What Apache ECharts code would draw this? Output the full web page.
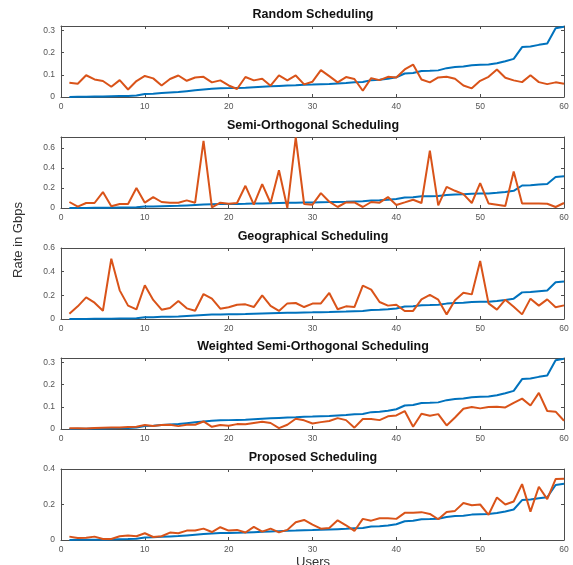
<!DOCTYPE html>
<html>
<head>
<meta charset="utf-8">
<script src="https://cdn.jsdelivr.net/npm/echarts@6/dist/echarts.min.js"></script>
<style>
  html, body { margin: 0; padding: 0; background: #fff; }
  #main { width: 573px; height: 565px; }
</style>
</head>
<body>
<div id="main"></div>
<script>
// users 1..60
const users = []
for (let i = 1; i <= 60; i++) users.push(i)

const titles = ['Random Scheduling', 'Semi-Orthogonal Scheduling', 'Geographical Scheduling',
  'Weighted Semi-Orthogonal Scheduling', 'Proposed Scheduling']

// blue reference curve (same in every panel)
const reference = [0.000,0.001,0.001,0.002,0.002,0.003,0.004,0.005,0.007,0.014,0.015,0.018,0.020,0.022,0.026,0.030,0.034,0.037,0.039,0.040,
  0.041,0.042,0.044,0.046,0.048,0.050,0.052,0.053,0.055,0.056,0.058,0.059,0.061,0.063,0.066,0.068,0.076,0.078,0.082,0.089,
  0.106,0.108,0.117,0.118,0.120,0.130,0.135,0.137,0.143,0.145,0.146,0.152,0.161,0.172,0.225,0.228,0.235,0.241,0.310,0.317]

const randomRate = [0.064,0.060,0.098,0.079,0.072,0.046,0.076,0.034,0.072,0.095,0.084,0.052,0.081,0.097,0.073,0.088,0.091,0.066,0.075,0.052,
  0.036,0.090,0.075,0.082,0.051,0.097,0.075,0.097,0.057,0.069,0.121,0.094,0.066,0.090,0.081,0.028,0.085,0.076,0.091,0.088,
  0.124,0.146,0.079,0.066,0.088,0.091,0.082,0.052,0.039,0.073,0.091,0.124,0.087,0.075,0.067,0.098,0.067,0.058,0.066,0.060]

const semiOrthRate = [0.060,0.013,0.050,0.050,0.159,0.017,0.040,0.040,0.200,0.053,0.109,0.060,0.053,0.053,0.076,0.053,0.672,0.007,0.053,0.043,
  0.050,0.222,0.033,0.238,0.050,0.377,0.000,0.705,0.040,0.033,0.149,0.063,0.010,0.056,0.056,0.010,0.060,0.053,0.109,0.030,
  0.056,0.083,0.050,0.573,0.026,0.212,0.172,0.139,0.050,0.248,0.046,0.033,0.020,0.364,0.046,0.046,0.046,0.043,0.010,0.050]

const geoRate = [0.045,0.107,0.183,0.138,0.070,0.510,0.242,0.113,0.082,0.285,0.161,0.079,0.093,0.152,0.090,0.070,0.211,0.172,0.087,0.099,
  0.121,0.124,0.101,0.200,0.110,0.068,0.132,0.135,0.101,0.130,0.132,0.220,0.082,0.107,0.101,0.282,0.248,0.144,0.113,0.121,
  0.068,0.068,0.166,0.203,0.163,0.039,0.158,0.222,0.208,0.490,0.132,0.079,0.163,0.104,0.039,0.172,0.113,0.166,0.099,0.115]

const weightedRate = [0.003,0.003,0.002,0.004,0.006,0.007,0.007,0.009,0.010,0.018,0.013,0.018,0.019,0.013,0.019,0.019,0.034,0.010,0.018,0.015,
  0.022,0.021,0.027,0.033,0.027,0.004,0.019,0.046,0.039,0.025,0.031,0.036,0.049,0.040,0.006,0.045,0.045,0.040,0.057,0.061,
  0.081,0.010,0.069,0.060,0.067,0.016,0.052,0.091,0.099,0.093,0.099,0.100,0.097,0.118,0.137,0.106,0.163,0.081,0.078,0.037]

const proposedRate = [0.019,0.011,0.013,0.019,0.006,0.006,0.021,0.025,0.021,0.038,0.017,0.021,0.042,0.038,0.053,0.053,0.064,0.045,0.072,0.053,
  0.057,0.042,0.074,0.047,0.064,0.043,0.057,0.100,0.113,0.087,0.064,0.068,0.111,0.083,0.051,0.119,0.109,0.123,0.123,0.119,
  0.153,0.153,0.157,0.147,0.117,0.158,0.164,0.208,0.196,0.200,0.142,0.240,0.200,0.217,0.315,0.160,0.300,0.230,0.343,0.345]

const panelRates = [randomRate, semiOrthRate, geoRate, weightedRate, proposedRate]
const yMax = [0.32, 0.71, 0.6, 0.32, 0.4]
const yStep = [0.1, 0.2, 0.2, 0.1, 0.2]

const tops = [26, 137, 248, 358, 469]
const plotH = 71
const axisColor = '#4d4d4d'
const labelColor = '#555'
const font = 'Liberation Sans, Arial, sans-serif'

var myChart = echarts.init(document.getElementById('main'), null, { renderer: 'canvas' })

const grid = [], xAxis = [], yAxis = [], series = [], graphic = []

tops.forEach((top, k) => {
  grid.push({ left: 61, right: 9, top: top, height: plotH, show: false })
  graphic.push({
    type: 'text', x: 313, y: top - 11,
    style: { text: titles[k], font: 'bold 12.5px ' + font, fill: '#111', textAlign: 'center', textVerticalAlign: 'middle' }
  })
  const line = { show: true, onZero: false, lineStyle: { color: axisColor, width: 1 } }
  const tick = { show: true, inside: true, length: 3, lineStyle: { color: axisColor } }
  // bottom + top x axes
  xAxis.push({
    gridIndex: k, type: 'value', min: 0, max: 60, interval: 10, position: 'bottom',
    axisLine: line, axisTick: tick, splitLine: { show: false },
    axisLabel: { color: labelColor, fontSize: 8.5, fontFamily: font, margin: 5 }
  })
  xAxis.push({
    gridIndex: k, type: 'value', min: 0, max: 60, interval: 10, position: 'top',
    axisLine: line, axisTick: tick, splitLine: { show: false }, axisLabel: { show: false }
  })
  // left + right y axes
  yAxis.push({
    gridIndex: k, type: 'value', min: 0, max: yMax[k], interval: yStep[k], position: 'left',
    axisLine: line, axisTick: tick, splitLine: { show: false },
    axisLabel: {
      color: labelColor, fontSize: 8.5, fontFamily: font, margin: 6,
      showMaxLabel: yMax[k] === 0.6 || yMax[k] === 0.4,
      formatter: v => String(Math.round(v * 10) / 10)
    }
  })
  yAxis.push({
    gridIndex: k, type: 'value', min: 0, max: yMax[k], interval: yStep[k], position: 'right',
    axisLine: line, axisTick: tick, splitLine: { show: false }, axisLabel: { show: false }
  })
  series.push({
    type: 'line', xAxisIndex: 2 * k, yAxisIndex: 2 * k, showSymbol: false,
    data: users.map((u, i) => [u, reference[i]]),
    lineStyle: { color: '#0072BD', width: 2 }, itemStyle: { color: '#0072BD' }
  })
  series.push({
    type: 'line', xAxisIndex: 2 * k, yAxisIndex: 2 * k, showSymbol: false,
    data: users.map((u, i) => [u, panelRates[k][i]]),
    lineStyle: { color: '#D95319', width: 2 }, itemStyle: { color: '#D95319' }
  })
})

graphic.push({
  type: 'text', x: 18, y: 240, rotation: Math.PI / 2,
  style: { text: 'Rate in Gbps', font: '13px ' + font, fill: '#333', textAlign: 'center', textVerticalAlign: 'middle' }
})
graphic.push({
  type: 'text', x: 313, y: 562,
  style: { text: 'Users', font: '13px ' + font, fill: '#333', textAlign: 'center', textVerticalAlign: 'middle' }
})

myChart.setOption({
  animation: false,
  backgroundColor: '#fff',
  grid: grid,
  xAxis: xAxis,
  yAxis: yAxis,
  series: series,
  graphic: graphic
})
</script>
</body>
</html>
